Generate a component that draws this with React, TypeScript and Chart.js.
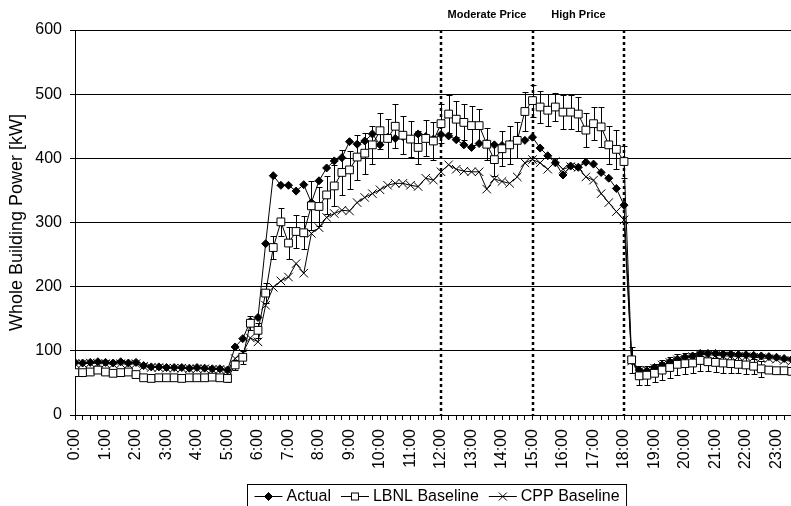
import React, { useEffect, useRef } from 'react';
import { Chart, registerables } from 'chart.js';
Chart.register(...registerables);

const hourLabels = [
  '0:00', '1:00', '2:00', '3:00', '4:00', '5:00', '6:00', '7:00', '8:00', '9:00', '10:00', '11:00',
  '12:00', '13:00', '14:00', '15:00', '16:00', '17:00', '18:00', '19:00', '20:00', '21:00', '22:00', '23:00',
];

// 15-minute intervals, 0:00 ... 23:45
const actual = [
  82, 81, 82, 83, 82, 81, 83, 81, 82, 77, 75, 75, 74, 74, 74, 73, 74, 73, 72, 72,
  70, 106, 119, 146, 152, 267, 373, 358, 358, 349, 359, 331, 365, 385, 396, 401, 426, 422, 427, 438,
  421, 433, 431, 434, 430, 438, 434, 430, 437, 435, 429, 421, 417, 423, 423, 421, 420, 422, 428, 428,
  433, 416, 404, 393, 374, 388, 386, 394, 391, 378, 369, 353, 327, 85, 70, 69, 74, 78, 83, 87,
  90, 92, 96, 96, 96, 95, 95, 94, 94, 93, 92, 91, 90, 88, 87, 86,
];

const lbnlBaseline = [
  66, 66, 67, 70, 67, 65, 66, 67, 63, 58, 57, 58, 58, 58, 57, 58, 58, 58, 59, 58,
  57, 78, 90, 143, 132, 190, 261, 301, 268, 286, 284, 326, 325, 343, 357, 378, 382, 402, 408, 421,
  443, 431, 450, 436, 430, 417, 431, 427, 454, 469, 461, 456, 451, 451, 422, 398, 415, 421, 428, 473,
  490, 480, 475, 480, 472, 472, 469, 444, 454, 449, 421, 414, 395, 86, 61, 62, 65, 70, 74, 79,
  80, 81, 85, 83, 82, 81, 80, 79, 78, 76, 72, 70, 69, 69, 68, 68,
];

const lbnlError = [
  2, 2, 2, 2, 2, 2, 2, 2, 2, 2, 2, 2, 2, 2, 2, 2, 2, 2, 2, 2,
  5, 8, 10, 11, 12, 15, 18, 22, 25, 26, 26, 38, 30, 30, 32, 35, 30, 35, 32, 30,
  28, 30, 34, 30, 28, 26, 28, 30, 30, 30, 28, 28, 30, 26, 25, 25, 27, 30, 28, 30,
  25, 25, 25, 22, 26, 26, 26, 26, 26, 31, 30, 30, 25, 20, 15, 15, 14, 16, 16, 16,
  16, 16, 16, 15, 15, 15, 14, 14, 14, 12, 12, 2, 2, 2, 2, 2,
];

const cppBaseline = [
  80, 80, 81, 80, 80, 79, 80, 79, 80, 76, 74, 74, 73, 73, 73, 72, 72, 72, 71, 71,
  70, 88, 97, 120, 114, 171, 199, 209, 215, 236, 221, 283, 292, 308, 314, 319, 318, 331, 339, 345,
  351, 358, 361, 361, 358, 356, 369, 366, 379, 390, 383, 380, 379, 379, 352, 368, 364, 361, 371, 393,
  398, 393, 383, 395, 383, 387, 386, 371, 366, 345, 331, 317, 304, 84, 68, 70, 73, 78, 82, 86,
  88, 91, 94, 94, 93, 92, 92, 91, 91, 90, 89, 88, 87, 85, 84, 83,
];

const eventHours = [12, 15, 18];
const periodLabels = ['Moderate Price', 'High Price'];
const seriesNames = ['Actual', 'LBNL Baseline', 'CPP Baseline'];

const FONT = '"Liberation Sans", Arial, Helvetica, sans-serif';

function drawMarker(ctx: CanvasRenderingContext2D, kind: string, x: number, y: number) {
  ctx.save();
  ctx.strokeStyle = '#000';
  ctx.lineWidth = 1;
  if (kind === 'diamond') {
    ctx.fillStyle = '#000';
    ctx.beginPath();
    ctx.moveTo(x - 4, y);
    ctx.lineTo(x, y - 4);
    ctx.lineTo(x + 4, y);
    ctx.lineTo(x, y + 4);
    ctx.closePath();
    ctx.fill();
    ctx.stroke();
  } else if (kind === 'square') {
    ctx.fillStyle = '#fff';
    ctx.fillRect(x - 3.5, y - 3.5, 7, 7);
    ctx.strokeRect(x - 3.5, y - 3.5, 7, 7);
  } else {
    ctx.beginPath();
    ctx.moveTo(x - 4, y - 4);
    ctx.lineTo(x + 4, y + 4);
    ctx.moveTo(x + 4, y - 4);
    ctx.lineTo(x - 4, y + 4);
    ctx.stroke();
  }
  ctx.restore();
}

export default function App() {
  const ref = useRef<HTMLCanvasElement>(null);

  useEffect(() => {
    document.body.style.margin = '0';
    const canvas = ref.current;
    if (!canvas) return;
    const toPts = (arr: number[]) => arr.map((v, i) => ({ x: i, y: v }));

    const errorBars = {
      id: 'errorBars',
      beforeDatasetsDraw(chart: any) {
        const { ctx, chartArea, scales } = chart;
        const x = scales.x;
        const y = scales.y;
        ctx.save();
        ctx.beginPath();
        ctx.rect(chartArea.left, chartArea.top - 5, chartArea.right - chartArea.left, chartArea.bottom - chartArea.top + 5);
        ctx.clip();
        ctx.strokeStyle = '#000';
        ctx.lineWidth = 1;
        lbnlBaseline.forEach((v, i) => {
          const e = lbnlError[i];
          if (!e) return;
          const px = Math.round(x.getPixelForValue(i)) + 0.5;
          const y1 = Math.round(y.getPixelForValue(v + e)) + 0.5;
          const y2 = Math.round(y.getPixelForValue(v - e)) + 0.5;
          ctx.beginPath();
          ctx.moveTo(px, y1);
          ctx.lineTo(px, y2);
          ctx.moveTo(px - 3, y1);
          ctx.lineTo(px + 3, y1);
          ctx.moveTo(px - 3, y2);
          ctx.lineTo(px + 3, y2);
          ctx.stroke();
        });
        ctx.restore();
      },
    };

    const eventLines = {
      id: 'eventLines',
      beforeDatasetsDraw(chart: any) {
        const { ctx, chartArea, scales } = chart;
        const x = scales.x;
        ctx.save();
        ctx.strokeStyle = '#000';
        ctx.lineWidth = 2.5;
        ctx.setLineDash([3, 3]);
        const pxs = eventHours.map((h) => Math.round(x.getPixelForValue(h * 4)));
        pxs.forEach((px) => {
          ctx.beginPath();
          ctx.moveTo(px, chartArea.top);
          ctx.lineTo(px, chartArea.bottom);
          ctx.stroke();
        });
        ctx.setLineDash([]);
        ctx.fillStyle = '#000';
        ctx.font = `bold 11px ${FONT}`;
        ctx.textAlign = 'center';
        ctx.textBaseline = 'middle';
        periodLabels.forEach((t, k) => {
          const cx = (pxs[k] + pxs[k + 1]) / 2;
          ctx.fillText(t, cx, 15);
        });
        ctx.restore();
      },
    };

    const legendBox = {
      id: 'legendBox',
      afterDraw(chart: any) {
        const { ctx } = chart;
        const kinds = ['diamond', 'square', 'cross'];
        ctx.save();
        ctx.font = `16px ${FONT}`;
        const lineLen = 28;
        const gapAfterLine = 4;
        const gapAfterText = 10;
        const pad = 7;
        const widths = seriesNames.map((n) => ctx.measureText(n).width);
        let total = pad * 2;
        widths.forEach((w, i) => {
          total += lineLen + gapAfterLine + w + (i < widths.length - 1 ? gapAfterText : 0);
        });
        const left = Math.round(437 - total / 2) + 0.5;
        const top = 484.5;
        ctx.strokeStyle = '#000';
        ctx.lineWidth = 1;
        ctx.strokeRect(left, top, total, 40);
        const cy = 496;
        let cx = left + pad;
        seriesNames.forEach((n, i) => {
          ctx.beginPath();
          ctx.moveTo(cx, cy + 0.5);
          ctx.lineTo(cx + lineLen, cy + 0.5);
          ctx.stroke();
          drawMarker(ctx, kinds[i], cx + lineLen / 2, cy + 0.5);
          cx += lineLen + gapAfterLine;
          ctx.fillStyle = '#000';
          ctx.textAlign = 'left';
          ctx.textBaseline = 'middle';
          ctx.fillText(n, cx, cy + 1);
          cx += widths[i] + gapAfterText;
        });
        ctx.restore();
      },
    };

    const common = {
      borderColor: '#000',
      borderWidth: 1,
      pointBorderColor: '#000',
      pointBorderWidth: 1,
      tension: 0,
    };

    const chart = new Chart(canvas, {
      type: 'line',
      data: {
        datasets: [
          {
            ...common,
            label: seriesNames[0],
            data: toPts(actual),
            pointStyle: 'rectRot',
            pointRadius: 4,
            pointBackgroundColor: '#000',
            order: 3,
          },
          {
            ...common,
            label: seriesNames[1],
            data: toPts(lbnlBaseline),
            pointStyle: 'rect',
            pointRadius: 5.5,
            pointBackgroundColor: '#fff',
            order: 1,
          },
          {
            ...common,
            label: seriesNames[2],
            data: toPts(cppBaseline),
            pointStyle: 'crossRot',
            pointRadius: 6,
            pointBackgroundColor: '#000',
            order: 2,
          },
        ],
      },
      options: {
        responsive: false,
        animation: false,
        devicePixelRatio: 1,
        layout: { autoPadding: false, padding: { top: 30, left: 0, right: 0, bottom: 0 } },
        plugins: {
          legend: { display: false },
          tooltip: { enabled: false },
        },
        scales: {
          x: {
            type: 'linear',
            min: 0,
            max: 93.9,
            afterFit: (s: any) => {
              s.height = 91;
              s.paddingLeft = 0;
              s.paddingRight = 0;
            },
            grid: { drawOnChartArea: false, drawTicks: true, tickLength: 5, color: '#000' },
            border: { color: '#000', width: 1 },
            ticks: {
              stepSize: 1,
              autoSkip: false,
              maxRotation: 90,
              minRotation: 90,
              includeBounds: false,
              padding: 9,
              color: '#000',
              font: { family: FONT, size: 16 },
              callback: (v: any) => (Number(v) % 4 === 0 ? hourLabels[Number(v) / 4] : ''),
            },
          },
          y: {
            min: 0,
            max: 600,
            afterFit: (s: any) => {
              s.width = 75;
              s.paddingTop = 0;
              s.paddingBottom = 0;
            },
            grid: { color: '#000', tickLength: 5 },
            border: { color: '#000', width: 1 },
            ticks: {
              stepSize: 100,
              padding: 8,
              color: '#000',
              font: { family: FONT, size: 16 },
            },
            title: {
              display: true,
              text: 'Whole Building Power [kW]',
              color: '#000',
              font: { family: FONT, size: 18 },
              padding: { top: 6, bottom: 0 },
            },
          },
        },
      },
      plugins: [errorBars, eventLines, legendBox],
    } as any);

    return () => chart.destroy();
  }, []);

  return <canvas ref={ref} width={791} height={506} style={{ display: 'block' }} />;
}
